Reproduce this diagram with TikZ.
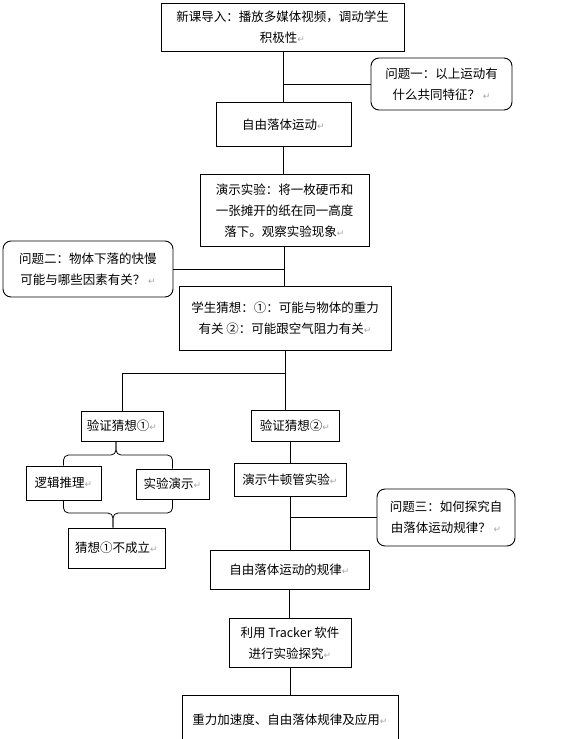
\documentclass[tikz,border=0pt]{standalone}
\usepackage{fontspec}
\setmainfont{Noto Sans CJK SC}
\newfontfamily\symfont{DejaVu Sans}
\usepackage{tikz}
\usetikzlibrary{positioning, calc}
\newcommand{\pmk}{{\symfont\color{gray!70}\fontsize{9pt}{9pt}\selectfont ↵}}
\tikzset{
  flowbox/.style={rectangle, draw=black, line width=0.9pt, fill=white,
                  align=center, inner sep=2pt,
                  font=\fontsize{12.5pt}{21pt}\selectfont},
  askbox/.style={flowbox, rounded corners=8pt},
  link/.style={line width=0.8pt},
}
\begin{document}
\begin{tikzpicture}[x=1pt, y=-1pt]
    \useasboundingbox (0,0) rectangle (587,739);
    % main column
    \node[flowbox, minimum width=243pt, minimum height=48pt] (intro) at (282.5,27)
      {新课导入：播放多媒体视频，调动学生\\积极性\pmk};
    \node[flowbox, below=51pt of intro, xshift=1pt, minimum width=135pt, minimum height=44pt] (ff)
      {自由落体运动\pmk};
    \node[flowbox, below=27pt of ff, xshift=1pt, minimum width=169pt, minimum height=72pt] (demo)
      {演示实验：将一枚硬币和\\一张摊开的纸在同一高度\\落下。观察实验现象\pmk};
    \node[flowbox, below=39pt of demo, xshift=0.5pt, minimum width=212pt, minimum height=64pt] (guess)
      {学生猜想：①：可能与物体的重力\\有关 ②：可能跟空气阻力有关\pmk};
    \node[flowbox, below=59pt of guess, xshift=10pt, minimum width=88pt, minimum height=31pt] (v2)
      {验证猜想②\pmk};
    \node[flowbox, below=21pt of v2, xshift=-5pt, minimum width=112pt, minimum height=33pt] (newton)
      {演示牛顿管实验\pmk};
    \node[flowbox, below=53pt of newton, xshift=-0.5pt, minimum width=159pt, minimum height=39pt] (law)
      {自由落体运动的规律\pmk};
    \node[flowbox, below=28pt of law, xshift=0.5pt, minimum width=122pt, minimum height=49pt] (tracker)
      {利用 Tracker 软件\\进行实验探究\pmk};
    \node[flowbox, below=27pt of tracker, minimum width=216pt, minimum height=49pt] (final)
      {重力加速度、自由落体规律及应用\pmk};
    % questions
    \node[askbox, minimum width=141pt, minimum height=52pt] (q1) at (441.5,84)
      {问题一：以上运动有\\ 什么共同特征？ \pmk};
    \node[askbox, minimum width=170pt, minimum height=56pt] (q2) at (88,269)
      {问题二：物体下落的快慢\\可能与哪些因素有关？ \pmk};
    \node[askbox, minimum width=138pt, minimum height=57pt] (q3) at (446,517.5)
      {问题三：如何探究自\\由落体运动规律？ \pmk};
    % left branch
    \node[flowbox, minimum width=82pt, minimum height=30pt] (v1) at (122,426) {验证猜想①\pmk};
    \node[flowbox, minimum width=75pt, minimum height=34pt] (logic) at (63.5,483) {逻辑推理\pmk};
    \node[flowbox, minimum width=73pt, minimum height=30pt] (expdemo) at (172.5,484) {实验演示\pmk};
    \node[flowbox, minimum width=97pt, minimum height=40pt] (nogo) at (116.5,548) {猜想①不成立\pmk};
    \coordinate (split) at ($(guess.south)+(0,22)$);
    \coordinate (braceup) at (116,455);
    \coordinate (bracedown) at (113,513);
    % connectors
    \draw[link] (intro.south -| ff.north) -- (ff.north);
    \draw[link] (ff.south) -- (ff.south |- demo.north);
    \draw[link] (demo.south) -- (demo.south |- guess.north);
    \draw[link] (guess.south) -- (guess.south |- v2.north);
    \draw[link] (v2.south -| newton.north) -- (newton.north);
    \draw[link] (newton.south) -- (newton.south |- law.north);
    \draw[link] (law.south) -- (law.south |- tracker.north);
    \draw[link] (tracker.south) -- (tracker.south |- final.north);
    \draw[link] (q1.west) -- (q1.west -| ff.north);
    \draw[link] (q2.east) -- (q2.east -| guess.north);
    \draw[link] (q3.west) -- (q3.west -| newton.south);
    \draw[link] (v1.north) |- (split);
    \draw[link, rounded corners=5pt] (logic.north) |- (braceup) -- (braceup |- v1.south);
    \draw[link, rounded corners=5pt] (expdemo.north) |- (braceup) -- (braceup |- v1.south);
    \draw[link, rounded corners=5pt] (logic.south) |- (bracedown) -- (bracedown |- nogo.north);
    \draw[link, rounded corners=5pt] (expdemo.south) |- (bracedown) -- (bracedown |- nogo.north);
  \end{tikzpicture}
\end{document}
